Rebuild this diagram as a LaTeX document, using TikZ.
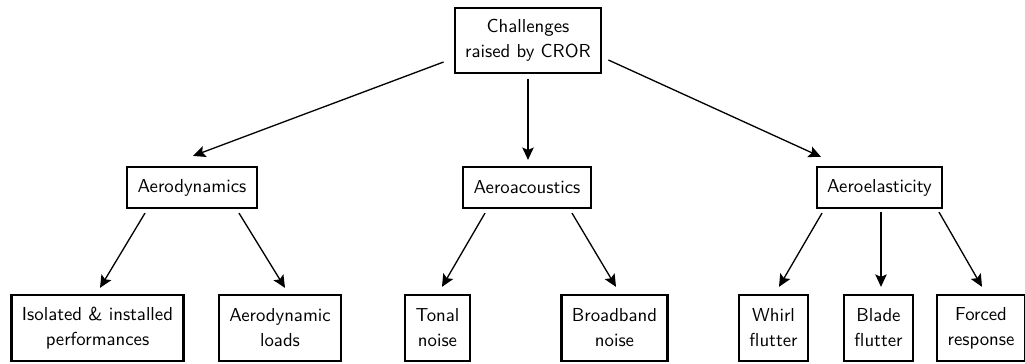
\documentclass[tikz,border=0pt]{standalone}
\usetikzlibrary{arrows.meta}
\begin{document}
\begin{tikzpicture}[x=0.5328pt,y=-0.5328pt,
  box/.style={draw, line width=1.2pt, font=\sffamily\fontsize{10}{13.3}\selectfont,
    inner xsep=5.6pt, inner ysep=1.6pt, align=center},
  one/.style={box, minimum height=21.8pt},
  two/.style={box, minimum height=35.2pt},
  arr/.style={-{Stealth[length=6.6pt,width=6.1pt,inset=1.3pt]}, line width=0.7pt}]
\useasboundingbox (0,0) rectangle (1025,363);

\node[box, minimum height=34.6pt] (top) at (528,40.5) {Challenges\\raised by CROR};

\node[one] (aero) at (192,187.5) {Aerodynamics};
\node[one] (acou) at (527,187.5) {Aeroacoustics};
\node[one] (elas) at (879.5,187.5) {Aeroelasticity};

\node[two] (iso) at (97.5,328) {Isolated \& installed\\performances};
\node[two] (loads) at (280,328) {Aerodynamic\\loads};
\node[two] (tonal) at (437.5,328) {Tonal\\noise};
\node[two] (broad) at (614.5,328) {Broadband\\noise};
\node[two] (whirl) at (773.5,328) {Whirl\\flutter};
\node[two] (blade) at (878.5,328) {Blade\\flutter};
\node[two] (forced) at (981,328) {Forced\\response};

\draw[arr] ([shift={(-10,21.5)}]top.west) -- ([shift={(1,-10)}]aero.north);
\draw[arr] ([shift={(0,5)}]top.south) -- ([shift={(1,-6)}]acou.north);
\draw[arr] ([shift={(6,19.5)}]top.east) -- ([shift={(-58.5,-9)}]elas.north);

\draw[arr] ([shift={(-47,4)}]aero.south) -- ([shift={(2.5,-6)}]iso.north);
\draw[arr] ([shift={(47,4)}]aero.south) -- ([shift={(5,-6)}]loads.north);

\draw[arr] ([shift={(-42,4)}]acou.south) -- ([shift={(4.5,-7)}]tonal.north);
\draw[arr] ([shift={(45,4)}]acou.south) -- ([shift={(1.5,-7)}]broad.north);

\draw[arr] ([shift={(-57.5,4)}]elas.south) -- ([shift={(5.5,-7)}]whirl.north);
\draw[arr] ([shift={(1.5,3)}]elas.south) -- ([shift={(2.5,-7)}]blade.north);
\draw[arr] ([shift={(59.5,3)}]elas.south) -- ([shift={(1,-7)}]forced.north);
\end{tikzpicture}
\end{document}
